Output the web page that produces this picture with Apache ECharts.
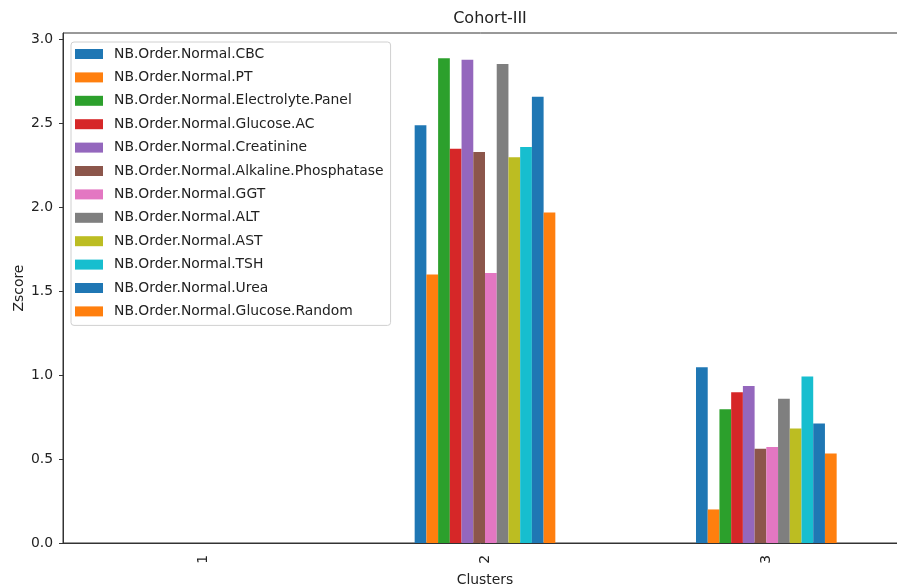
<!DOCTYPE html>
<html>
<head>
<meta charset="utf-8">
<script src="https://cdn.jsdelivr.net/npm/echarts@6/dist/echarts.min.js"></script>
<style>
  html, body { margin: 0; padding: 0; background: #fff; }
  #chart { width: 897px; height: 587px; }
</style>
</head>
<body>
<div id="chart"></div>
<script>
// Cluster labels on the x axis
const clusters = ['1', '2', '3'];

// Order types (one bar series each)
const orderNames = [
  'NB.Order.Normal.CBC',
  'NB.Order.Normal.PT',
  'NB.Order.Normal.Electrolyte.Panel',
  'NB.Order.Normal.Glucose.AC',
  'NB.Order.Normal.Creatinine',
  'NB.Order.Normal.Alkaline.Phosphatase',
  'NB.Order.Normal.GGT',
  'NB.Order.Normal.ALT',
  'NB.Order.Normal.AST',
  'NB.Order.Normal.TSH',
  'NB.Order.Normal.Urea',
  'NB.Order.Normal.Glucose.Random'
];

// Z-scores per cluster, in the same order as orderNames
const cluster1 = [0, 0, 0, 0, 0, 0, 0, 0, 0, 0, 0, 0];
const cluster2 = [2.49, 1.60, 2.89, 2.35, 2.88, 2.33, 1.61, 2.855, 2.30, 2.36, 2.66, 1.97];
const cluster3 = [1.047, 0.20, 0.797, 0.898, 0.936, 0.562, 0.572, 0.86, 0.683, 0.993, 0.713, 0.534];

// Y tick values
const yTicks = [0, 0.5, 1.0, 1.5, 2.0, 2.5, 3.0];

const palette = ['#1f77b4', '#ff7f0e', '#2ca02c', '#d62728', '#9467bd', '#8c564b',
                 '#e377c2', '#7f7f7f', '#bcbd22', '#17becf', '#1f77b4', '#ff7f0e'];

const textColor = '#222';
const fontFamily = 'DejaVu Sans';

const series = orderNames.map((name, i) => ({
  name: name,
  type: 'bar',
  data: [cluster1[i], cluster2[i], cluster3[i]],
  itemStyle: { color: palette[i] },
  barGap: '0%',
  barCategoryGap: '50%'
}));

const chart = echarts.init(document.getElementById('chart'), null, { renderer: 'canvas' });
chart.setOption({
  animation: false,
  backgroundColor: '#fff',
  textStyle: { fontFamily: fontFamily, color: textColor },
  title: {
    text: 'Cohort-III',
    left: 485,
    top: 6,
    textAlign: 'center',
    textStyle: { fontFamily: fontFamily, fontSize: 16, fontWeight: 'normal', color: textColor }
  },
  grid: {
    left: 63, top: 33, right: -10, bottom: 44,
    outerBoundsMode: 'none',
    containLabel: false,
    show: true, borderColor: '#333', borderWidth: 1, backgroundColor: 'transparent'
  },
  legend: {
    orient: 'vertical',
    left: 71,
    top: 42,
    icon: 'rect',
    itemWidth: 28,
    itemHeight: 10,
    itemGap: 9.4,
    padding: [5, 7, 7, 4],
    backgroundColor: 'rgba(255,255,255,0.85)',
    borderColor: '#d0d0d0',
    borderWidth: 1,
    borderRadius: 3,
    textStyle: { fontFamily: fontFamily, fontSize: 13.9, color: textColor, padding: [0, 0, 0, 6] },
    data: orderNames
  },
  xAxis: {
    type: 'category',
    data: clusters,
    name: 'Clusters',
    nameLocation: 'middle',
    nameGap: 30,
    nameTextStyle: { fontFamily: fontFamily, fontSize: 13.9, color: textColor },
    axisLine: { lineStyle: { color: '#333', width: 1 } },
    axisTick: { alignWithLabel: true, length: 4, lineStyle: { color: '#333' } },
    axisLabel: { rotate: 90, margin: 12, fontFamily: fontFamily, fontSize: 13.9, color: textColor },
    splitLine: { show: false }
  },
  yAxis: {
    type: 'value',
    min: 0,
    max: 3.04,
    name: 'Zscore',
    nameLocation: 'middle',
    nameGap: 37,
    nameMoveOverlap: false,
    nameTextStyle: { fontFamily: fontFamily, fontSize: 13.9, color: textColor },
    axisLine: { show: true, lineStyle: { color: '#333', width: 1 } },
    axisTick: { show: true, length: 4, customValues: yTicks, lineStyle: { color: '#333' } },
    axisLabel: {
      customValues: yTicks,
      margin: 10,
      fontFamily: fontFamily, fontSize: 13.9, color: textColor,
      formatter: v => Number(v).toFixed(1)
    },
    splitLine: { show: false }
  },
  series: series
});
</script>
</body>
</html>
